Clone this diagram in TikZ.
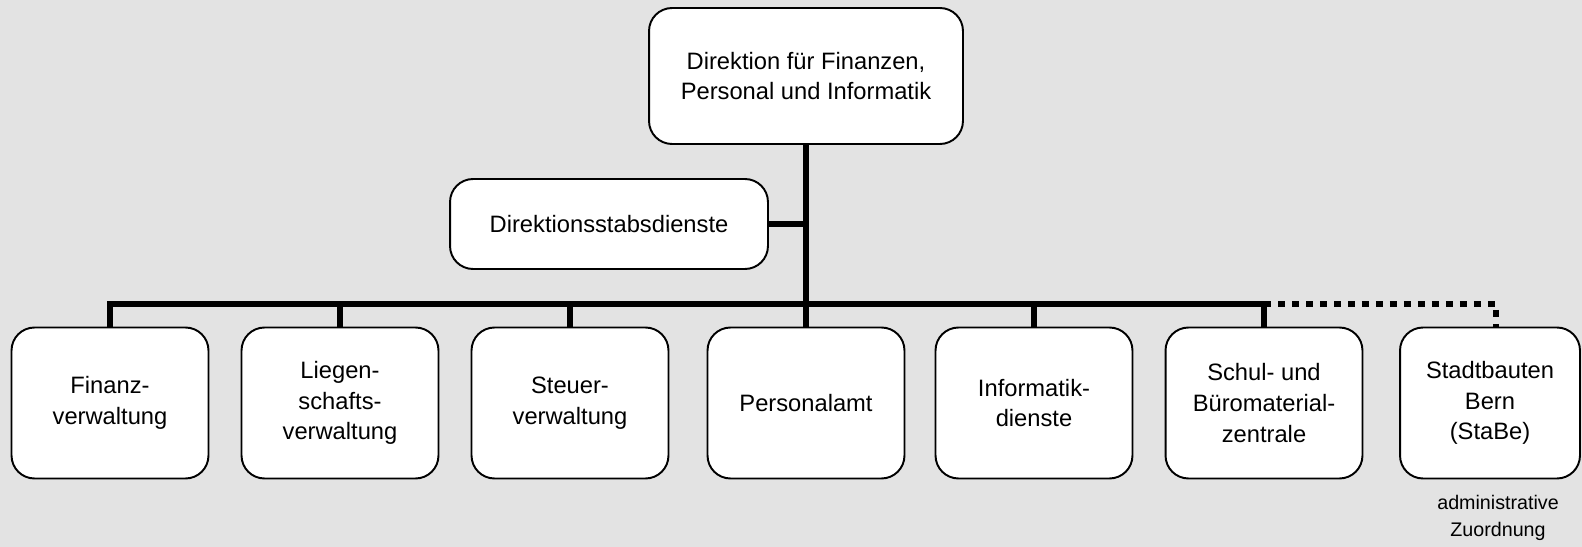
\documentclass[tikz,border=0pt]{standalone}
\usepackage{fontspec}
\setmainfont{Liberation Sans}
\usepackage{tikz}
\definecolor{bggray}{RGB}{227,227,227}

\begin{document}
\begin{tikzpicture}[x=0.02cm,y=-0.02cm,
    unit/.style={draw, fill=white, line width=1.1pt, rounded corners=0.46cm,
      align=center, inner sep=0pt, font=\fontsize{13.5}{17.5}\selectfont},
    conn/.style={line width=3.4pt},
    admin/.style={conn, dash pattern=on 0.14cm off 0.14cm}]

              % Background
              \useasboundingbox[fill=bggray] (0,0) rectangle (1582,547);

              % Direktion
              \node[unit, minimum width=6.28cm, minimum height=2.72cm] (dfpi) at (806,76)
                {Direktion für Finanzen,\\Personal und Informatik};

              % Stab
              \node[unit, minimum width=6.36cm, minimum height=1.8cm] (stab) at (609,224)
                {Direktionsstabsdienste};

              % Bus
              \coordinate (bus) at (806,304);

              % Dienststellen
              \node[unit, minimum width=3.94cm, minimum height=3.02cm] (fv) at (110,403) {Finanz-\\verwaltung};
              \node[unit, minimum width=3.94cm, minimum height=3.02cm] (lv) at (340,403) {Liegen-\\schafts-\\verwaltung};
              \node[unit, minimum width=3.94cm, minimum height=3.02cm] (sv) at (570,403) {Steuer-\\verwaltung};
              \node[unit, minimum width=3.94cm, minimum height=3.02cm] (pa) at (806,403) {Personalamt};
              \node[unit, minimum width=3.94cm, minimum height=3.02cm] (id) at (1034,403) {Informatik-\\dienste};
              \node[unit, minimum width=3.94cm, minimum height=3.02cm] (sbz) at (1264,403) {Schul- und\\Büromaterial-\\zentrale};
              \node[unit, minimum width=3.6cm, minimum height=3.02cm] (stabe) at (1490,403) {Stadtbauten\\Bern\\(StaBe)};

              % Hinweis
              \node[align=center, font=\fontsize{11.2}{15.3}\selectfont] (zuord) at (1498,518)
                {administrative\\Zuordnung};

              % Linien
              \draw[conn] (dfpi.south) -- (bus);
              \draw[conn] (stab.east) -- (stab.east -| bus);
              \draw[conn] (fv.north) -- (fv.north |- bus) -- (sbz.north |- bus) -- (sbz.north);
              \foreach \n in {lv,sv,pa,id}
                \draw[conn] (\n.north) -- (\n.north |- bus);
              \draw[admin] (sbz.north |- bus) -- ([xshift=0.12cm]stabe.north |- bus) -- ([xshift=0.12cm]stabe.north);

        \end{tikzpicture}
\end{document}
